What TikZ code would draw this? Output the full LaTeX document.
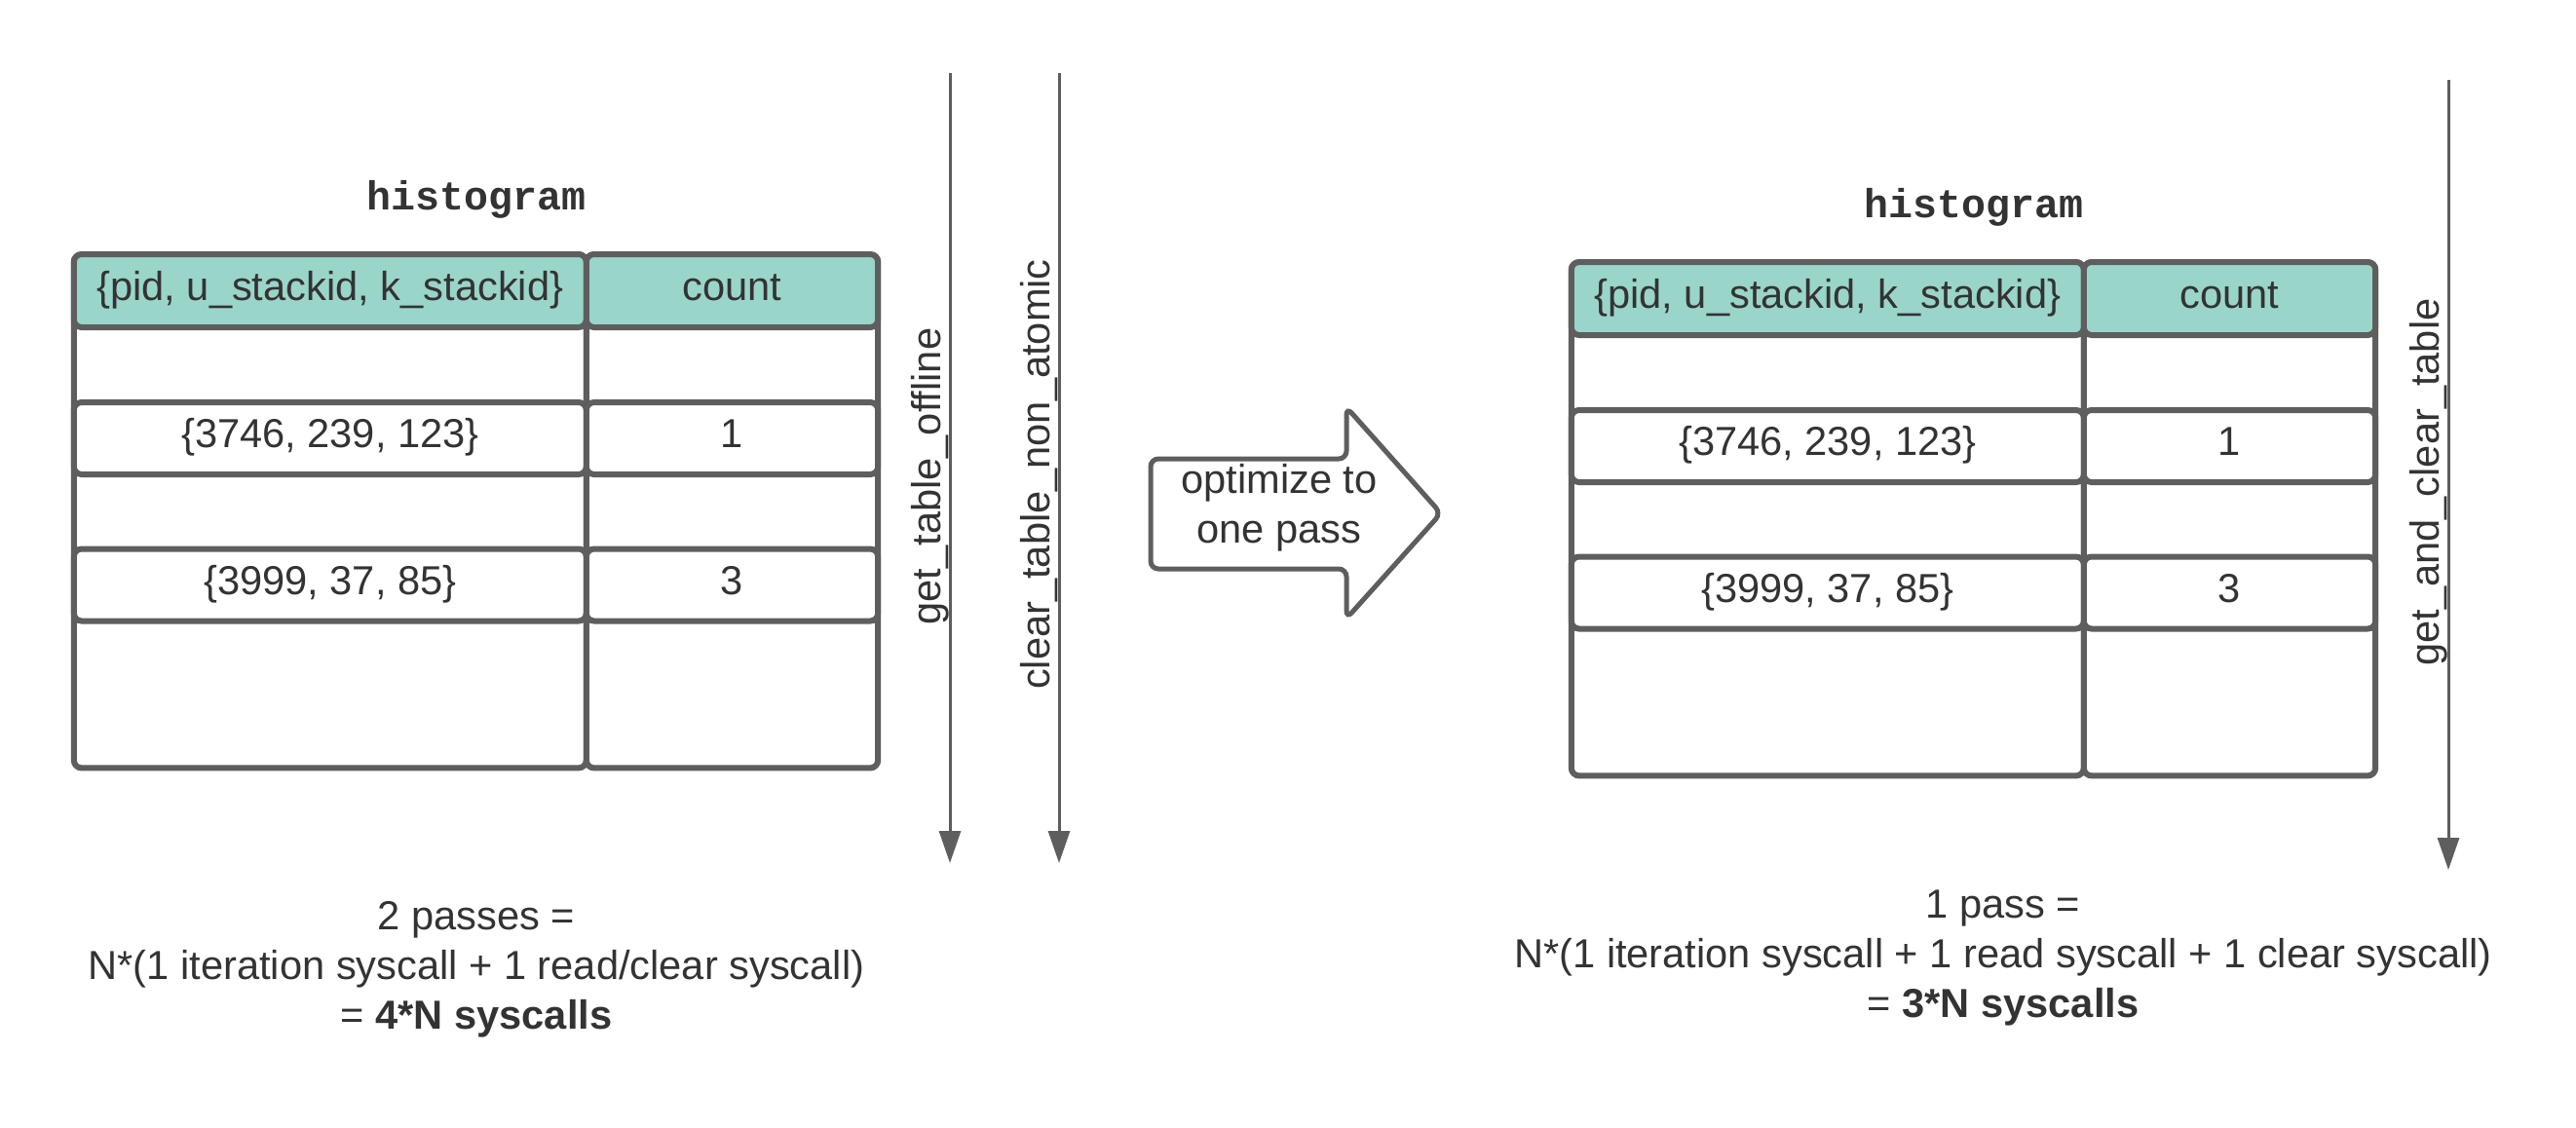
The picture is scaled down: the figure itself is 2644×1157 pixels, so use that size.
\documentclass[tikz,border=0pt]{standalone}
\usepackage{fontspec}
\setmainfont{Liberation Sans}
\newfontfamily\histmono{Liberation Mono}
\usetikzlibrary{arrows.meta}
\definecolor{edge}{HTML}{5E5E5E}
\definecolor{ink}{HTML}{333333}
\definecolor{teal}{HTML}{9AD5CA}
\tikzset{
  txt/.style={text=ink, font=\fontsize{20.8}{25.5}\selectfont, inner sep=0pt, outer sep=0pt},
  cell/.style={txt, draw=edge, line width=3pt, rounded corners=4pt, rectangle, text height=15pt, text depth=5.4pt},
  head/.style={cell, fill=teal},
  title/.style={text=ink, font=\histmono\bfseries\fontsize{20.8}{25.5}\selectfont, inner sep=0pt},
  conn/.style={draw=edge, line width=1.5pt, -{Triangle[length=16.5pt,width=11pt]}},
  vlabel/.style={txt, rotate=90, anchor=south},
  bigarrow/.style={draw=edge, line width=2.5pt, rounded corners=4pt, fill=white},
}
\newcommand\histtable{%
  \node[title] (title) at (489,205) {histogram};
  \node[cell, minimum width=263pt, minimum height=263.6pt] (colA) at (338.8,524.8) {};
  \node[cell, minimum width=149.7pt, minimum height=263.6pt] (colB) at (751.5,524.8) {};
  \node[head, minimum width=263pt, minimum height=37.5pt] (hA) at (338.8,298.5) {\{pid, u\_stackid, k\_stackid\}};
  \node[head, minimum width=149.7pt, minimum height=37.5pt] (hB) at (751.5,298.5) {count};
  \node[cell, fill=white, minimum width=263pt, minimum height=37pt] (r1A) at (338.8,450) {\{3746, 239, 123\}};
  \node[cell, fill=white, minimum width=149.7pt, minimum height=37pt] (r1B) at (751.5,450) {1};
  \node[cell, fill=white, minimum width=263pt, minimum height=37pt] (r2A) at (338.8,600.5) {\{3999, 37, 85\}};
  \node[cell, fill=white, minimum width=149.7pt, minimum height=37pt] (r2B) at (751.5,600.5) {3};
}
\begin{document}
\begin{tikzpicture}[x=0.5pt,y=-0.5pt]
\useasboundingbox[fill=white] (0,0) rectangle (2644,1157);
% left table
\begin{scope}[name prefix=L-]
\histtable
\end{scope}
% right table
\begin{scope}[shift={(1537,8)}, name prefix=R-]
\histtable
\end{scope}
% left arrows
\coordinate (a1s) at (975,75);
\coordinate (a1e) at (975,886);
\coordinate (a2s) at (1087,75);
\coordinate (a2e) at (1087,886);
\draw[conn] (a1s) -- (a1e);
\draw[conn] (a2s) -- (a2e);
\node[vlabel] (l1) at (974,489) {get\_table\_offline};
\node[vlabel] (l2) at (1086,487) {clear\_table\_non\_atomic};
% right arrow
\coordinate (a3s) at (2513,82);
\coordinate (a3e) at (2513,893);
\draw[conn] (a3s) -- (a3e);
\node[vlabel] (l3) at (2512,495) {get\_and\_clear\_table};
% big arrow
\draw[bigarrow] (1181,471) -- (1382,471) -- (1382,418) -- (1479,527) -- (1382,635) -- (1382,584) -- (1181,584) -- cycle;
\node[txt, align=center] (opt) at (1313,521) {optimize to\\one pass};
% bottom texts
\node[txt, align=center] (sumL) at (489,995) {2 passes =\\N*(1 iteration syscall + 1 read/clear syscall)\\= \textbf{4*N syscalls}};
\node[txt, align=center] (sumR) at (2056,983) {1 pass =\\N*(1 iteration syscall + 1 read syscall + 1 clear syscall)\\= \textbf{3*N syscalls}};
\end{tikzpicture}
\end{document}
